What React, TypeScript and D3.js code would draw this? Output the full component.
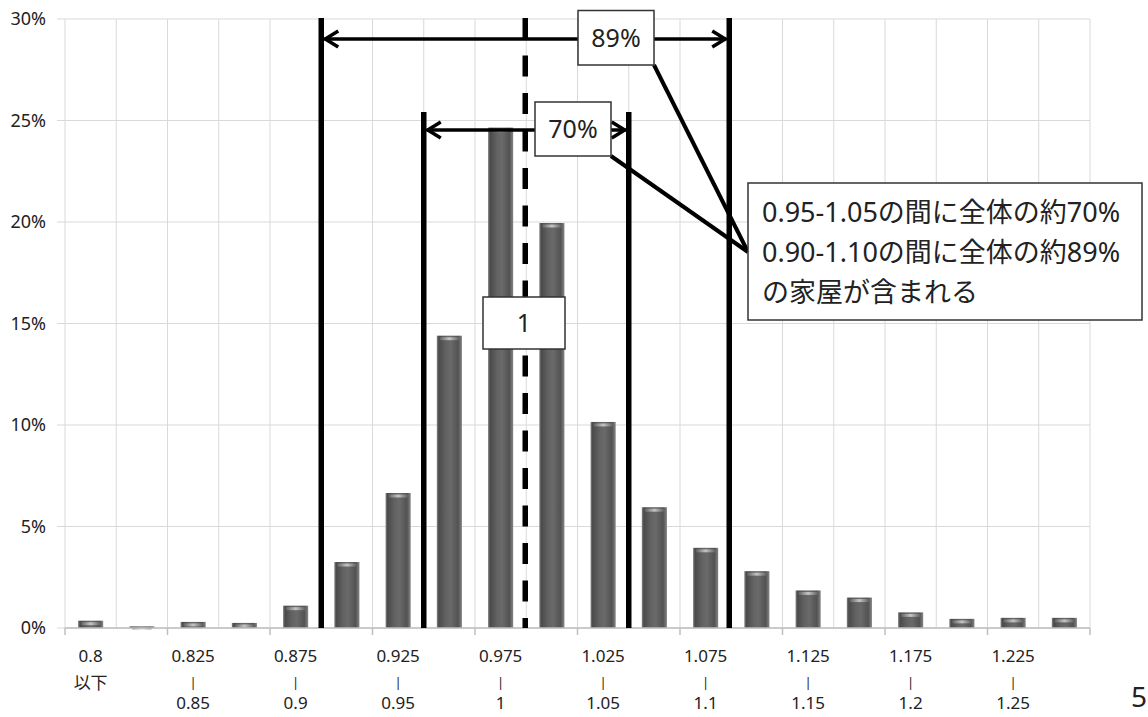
import React from "react";
import * as d3 from "d3";

const lowerLabels = ["0.8", "0.8", "0.825", "0.85", "0.875", "0.9", "0.925", "0.95", "0.975", "1", "1.025", "1.05", "1.075", "1.1", "1.125", "1.15", "1.175", "1.2", "1.225", "1.25"];
const upperLabels = ["以下", "0.825", "0.85", "0.875", "0.9", "0.925", "0.95", "0.975", "1", "1.025", "1.05", "1.075", "1.1", "1.125", "1.15", "1.175", "1.2", "1.225", "1.25", "以上"];
const values = [0.36, 0.08, 0.3, 0.25, 1.1, 3.25, 6.65, 14.4, 24.65, 19.95, 10.15, 5.95, 3.95, 2.8, 1.85, 1.5, 0.77, 0.45, 0.5, 0.5];
const yTicks = [0, 5, 10, 15, 20, 25, 30];
// boundaries (category index where the marker line sits)
const outerRange = [5, 13]; // 0.90 - 1.10
const innerRange = [7, 11]; // 0.95 - 1.05
const centerBoundary = 9; // 1.0
const outerPct = "89%";
const innerPct = "70%";
const noteLines = ["0.95-1.05の間に全体の約70%", "0.90-1.10の間に全体の約89%", "の家屋が含まれる"];

const W = 1148, H = 717;
const M = { left: 65, right: 1090, top: 19, bottom: 628 };
const FONT = "'Noto Sans', 'Noto Sans CJK JP', sans-serif";

export default function App() {
  const idx = values.map((_, i) => i);
  const x = d3.scaleBand<number>().domain(idx).range([M.left, M.right]).paddingInner(0).paddingOuter(0);
  const y = d3.scaleLinear().domain([0, 30]).range([M.bottom, M.top]);
  const bw = x.bandwidth();
  const barW = bw * 0.49;
  const bx = (k: number) => M.left + k * bw; // boundary x
  const arrowOuterY = 39;
  const arrowInnerY = 130;

  const chevron = (xx: number, yy: number, dir: number) =>
    `M${xx + dir * 13},${yy - 8} L${xx},${yy} L${xx + dir * 13},${yy + 8}`;

  const noteBox = { x: 748, y: 183, w: 394, h: 137 };
  const joinPt = { x: noteBox.x, y: 252 };

  return (
    <svg width={W} height={H} style={{ position: "absolute", left: 0, top: 0 }} fontFamily={FONT}>
      <defs>
        <linearGradient id="barGrad" x1="0" x2="1" y1="0" y2="0">
          <stop offset="0%" stopColor="#858585" />
          <stop offset="8%" stopColor="#4a4a4a" />
          <stop offset="35%" stopColor="#626262" />
          <stop offset="55%" stopColor="#6a6a6a" />
          <stop offset="85%" stopColor="#525252" />
          <stop offset="100%" stopColor="#858585" />
        </linearGradient>
        <linearGradient id="capGrad" x1="0" x2="1" y1="0" y2="0">
          <stop offset="0%" stopColor="#666" />
          <stop offset="50%" stopColor="#dcdcdc" />
          <stop offset="100%" stopColor="#666" />
        </linearGradient>
      </defs>
      <rect x={0} y={0} width={W} height={H} fill="#ffffff" />

      {/* vertical grid lines */}
      {d3.range(0, values.length + 1).map((k) => (
        <line key={"vg" + k} x1={bx(k)} x2={bx(k)} y1={M.top} y2={M.bottom} stroke="#d9d9d9" strokeWidth={1} />
      ))}
      {/* horizontal grid lines */}
      {yTicks.map((t) => (
        <line key={"hg" + t} x1={M.left - 8} x2={M.right} y1={y(t)} y2={y(t)} stroke="#d9d9d9" strokeWidth={1} />
      ))}
      {/* y labels */}
      {yTicks.map((t) => (
        <text key={"yl" + t} x={46} y={y(t)} dy="0.35em" textAnchor="end" fontSize={18} fill="#222">{t}%</text>
      ))}

      {/* bars */}
      {values.map((v, i) => {
        const cx = (x(i) as number) + bw / 2;
        const top = y(v);
        const h = M.bottom - top;
        return (
          <g key={"b" + i}>
            <rect x={cx - barW / 2} y={top} width={barW} height={h} fill="url(#barGrad)" />
            <rect x={cx - barW / 2 + 3} y={top + 1.5} width={barW - 6} height={Math.min(3, h)} fill="url(#capGrad)" opacity={0.8} />
          </g>
        );
      })}

      {/* x axis */}
      <line x1={M.left} x2={M.right} y1={M.bottom} y2={M.bottom} stroke="#bfbfbf" strokeWidth={1.5} />
      {d3.range(0, values.length + 1, 2).map((k) => (
        <line key={"xt" + k} x1={bx(k)} x2={bx(k)} y1={M.bottom} y2={M.bottom + 7} stroke="#bfbfbf" strokeWidth={1.5} />
      ))}
      {idx.filter((i) => i % 2 === 0).map((i) => {
        const cx = (x(i) as number) + bw / 2;
        const first = i === 0;
        return (
          <g key={"xl" + i} fontSize={17} fill="#222" textAnchor="middle">
            <text x={cx} y={656} dy="0.35em">{lowerLabels[i]}</text>
            {first ? (
              <text x={cx} y={683} dy="0.35em">{upperLabels[i]}</text>
            ) : (
              <>
                <text x={cx} y={682} dy="0.35em" fontSize={13}>|</text>
                <text x={cx} y={703} dy="0.35em">{upperLabels[i]}</text>
              </>
            )}
          </g>
        );
      })}

      {/* marker lines */}
      <line x1={bx(outerRange[0])} x2={bx(outerRange[0])} y1={18} y2={M.bottom} stroke="#000" strokeWidth={5.5} />
      <line x1={bx(outerRange[1]) - 2} x2={bx(outerRange[1]) - 2} y1={18} y2={M.bottom} stroke="#000" strokeWidth={5.5} />
      <line x1={bx(innerRange[0])} x2={bx(innerRange[0])} y1={112} y2={M.bottom} stroke="#000" strokeWidth={5.5} />
      <line x1={bx(innerRange[1])} x2={bx(innerRange[1])} y1={112} y2={M.bottom} stroke="#000" strokeWidth={5.5} />
      <line x1={bx(centerBoundary) - 1} x2={bx(centerBoundary) - 1} y1={18} y2={M.bottom} stroke="#000" strokeWidth={5.5} strokeDasharray="21 16.5" />

      {/* arrows */}
      <g stroke="#000" strokeWidth={3.5} fill="none">
        <line x1={bx(outerRange[0]) + 3} x2={bx(outerRange[1]) - 5} y1={arrowOuterY} y2={arrowOuterY} />
        <path d={chevron(bx(outerRange[0]) + 4, arrowOuterY, 1)} />
        <path d={chevron(bx(outerRange[1]) - 6, arrowOuterY, -1)} />
        <line x1={bx(innerRange[0]) + 3} x2={bx(innerRange[1]) - 3} y1={arrowInnerY} y2={arrowInnerY} />
        <path d={chevron(bx(innerRange[0]) + 4, arrowInnerY, 1)} />
        <path d={chevron(bx(innerRange[1]) - 4, arrowInnerY, -1)} />
      </g>

      {/* leader lines */}
      <g stroke="#000" strokeWidth={4}>
        <line x1={654} y1={65} x2={joinPt.x} y2={joinPt.y} />
        <line x1={611} y1={156} x2={joinPt.x} y2={joinPt.y} />
      </g>

      {/* label boxes */}
      <rect x={578} y={10.5} width={76} height={54.5} fill="#fff" stroke="#333" strokeWidth={1.5} />
      <text x={616} y={38} dy="0.36em" textAnchor="middle" fontSize={25} fill="#222">{outerPct}</text>
      <rect x={535} y={102} width={76} height={54} fill="#fff" stroke="#333" strokeWidth={1.5} />
      <text x={573} y={129} dy="0.36em" textAnchor="middle" fontSize={25} fill="#222">{innerPct}</text>
      <rect x={483} y={297} width={82} height={52} fill="#fff" stroke="#333" strokeWidth={1.5} />
      <text x={524} y={323} dy="0.36em" textAnchor="middle" fontSize={25} fill="#222">1</text>

      {/* note box */}
      <rect x={noteBox.x} y={noteBox.y} width={noteBox.w} height={noteBox.h} fill="#fff" stroke="#333" strokeWidth={1.5} />
      {noteLines.map((t, i) => (
        <text key={"n" + i} x={762} y={212 + i * 40} dy="0.36em" fontSize={27} fill="#222">{t}</text>
      ))}

      {/* page number */}
      <text x={1131} y={697} dy="0.36em" fontSize={28} fill="#222">5</text>
    </svg>
  );
}
